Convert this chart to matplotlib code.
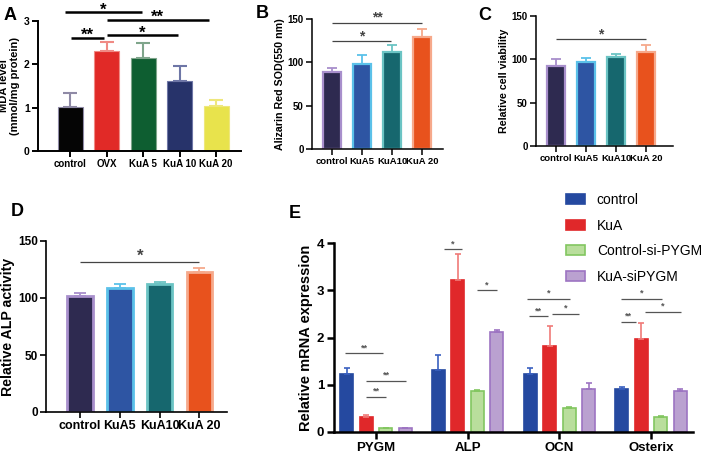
import numpy as np
import matplotlib
matplotlib.use("Agg")
import matplotlib.pyplot as plt
from matplotlib.patches import Patch

plt.rcParams['font.family'] = ['Liberation Sans', 'DejaVu Sans']
plt.rcParams['font.weight'] = 'bold'

# ---------------- data ----------------
a_cats = ["control", "OVX", "KuA 5", "KuA 10", "KuA 20"]
a_vals = [1.02, 2.30, 2.15, 1.62, 1.03]
a_errs = [0.33, 0.22, 0.35, 0.34, 0.15]

b_cats = ["control", "KuA5", "KuA10", "KuA 20"]
b_vals = [89, 98, 112, 129]
b_errs = [5, 10, 8, 9]

c_cats = ["control", "KuA5", "KuA10", "KuA 20"]
c_vals = [92, 97, 103, 109]
c_errs = [8, 5, 3, 7]

d_cats = ["control", "KuA5", "KuA10", "KuA 20"]
d_vals = [102, 109, 112, 123]
d_errs = [2, 3, 2, 3]

e_genes = ["PYGM", "ALP", "OCN", "Osterix"]
e_series = ["control", "KuA", "Control-si-PYGM", "KuA-siPYGM"]
e_control = [1.22, 1.31, 1.23, 0.92]
e_kua = [0.31, 3.22, 1.82, 1.97]
e_ctrl_si = [0.08, 0.86, 0.51, 0.32]
e_kua_si = [0.08, 2.11, 0.92, 0.86]
e_control_err = [0.13, 0.33, 0.12, 0.04]
e_kua_err = [0.05, 0.55, 0.42, 0.34]
e_ctrl_si_err = [0.01, 0.02, 0.02, 0.02]
e_kua_si_err = [0.01, 0.05, 0.12, 0.05]

# ---------------- figure ----------------
W, H = 708, 457
fig = plt.figure(figsize=(W / 100, H / 100), dpi=100)
PT = 0.72  # points per pixel at 100 dpi


def rect(l, r, t, b):
    return [l / W, 1 - b / H, (r - l) / W, (b - t) / H]


def style_axes(ax, lw, xfs, yfs, ticklen=4):
    for s in ("top", "right"):
        ax.spines[s].set_visible(False)
    for s in ("left", "bottom"):
        ax.spines[s].set_linewidth(lw)
    ax.tick_params(axis="both", direction="out", width=lw, length=ticklen, pad=2)
    ax.tick_params(axis="x", labelsize=xfs)
    ax.tick_params(axis="y", labelsize=yfs)
    for lab in ax.get_xticklabels() + ax.get_yticklabels():
        lab.set_fontweight("bold")


def bracket(ax, x1, x2, y, text, lw, color, fs, base_px):
    """base_px: baseline of the star text, pixels above the line."""
    ax.plot([x1, x2], [y, y], color=color, lw=lw, clip_on=False,
            solid_capstyle="butt")
    ax.annotate(text, xy=((x1 + x2) / 2, y), xytext=(0, base_px * PT),
                textcoords="offset points", ha="center", va="baseline",
                fontsize=fs, color=color, annotation_clip=False)


# ---------------- Panel A ----------------
axA = fig.add_axes(rect(38, 241, 21, 151))
a_face = ["#050505", "#e12a27", "#0e5e31", "#27336a", "#e8e34c"]
a_errc = ["#8f8aa6", "#f08a84", "#7fa58b", "#6e76a6", "#eee77c"]
xa = np.arange(len(a_cats))
axA.bar(xa, a_vals, width=0.68, color=a_face, edgecolor=a_errc, linewidth=0.8)
for i in range(len(xa)):
    axA.errorbar(xa[i], a_vals[i], yerr=[[0], [a_errs[i]]], fmt="none",
                 ecolor=a_errc[i], elinewidth=1.5, capsize=5, capthick=1.5)
axA.set_xlim(-0.88, 4.68)
axA.set_ylim(0, 3)
axA.set_yticks([0, 1, 2, 3])
axA.set_xticks(xa)
axA.set_xticklabels(a_cats)
axA.set_ylabel("MDA level\n(mmol/mg protein)", fontsize=8, fontweight="bold",
               labelpad=3, linespacing=1.1)
style_axes(axA, 1.4, 7, 7.5)
bracket(axA, -0.14, 1.97, 3.20, "*", 1.8, "black", 12, -2.5)
bracket(axA, 1.0, 3.8, 3.02, "**", 1.8, "black", 12, -2.0)
bracket(axA, 0.03, 0.93, 2.61, "**", 1.8, "black", 12, -2.0)
bracket(axA, 1.0, 2.95, 2.68, "*", 1.8, "black", 12, -2.5)
fig.text(10 / W, 1 - 15 / H, "A", fontsize=13, fontweight="bold",
         ha="center", va="center")

# ---------------- shared palette for B, C, D ----------------
bcd_face = ["#2e2a50", "#2e55a3", "#16676e", "#e8521d"]
bcd_edge = ["#a88fcc", "#5bc1e9", "#6bc4c4", "#f6a98b"]


def bcd_panel(ax, cats, vals, errs, width, lw_edge, capsize):
    x = np.arange(len(cats))
    ax.bar(x, vals, width=width, color=bcd_face, edgecolor=bcd_edge,
           linewidth=lw_edge)
    for i in range(len(x)):
        ax.errorbar(x[i], vals[i], yerr=[[0], [errs[i]]], fmt="none",
                    ecolor=bcd_edge[i], elinewidth=1.3, capsize=capsize,
                    capthick=1.3)
    ax.set_xticks(x)
    ax.set_xticklabels(cats)
    ax.set_ylim(0, 150)
    ax.set_yticks([0, 50, 100, 150])
    return x


# ---------------- Panel B ----------------
axB = fig.add_axes(rect(312, 443, 19, 149))
bcd_panel(axB, b_cats, b_vals, b_errs, 0.62, 1.6, 3.5)
axB.set_xlim(-0.67, 3.7)
axB.set_ylabel("Alizarin Red SOD(550 nm)", fontsize=7.7, fontweight="bold",
               labelpad=2)
style_axes(axB, 1.1, 6.8, 7)
bracket(axB, 0, 1.97, 124.5, "*", 0.9, "#444444", 10, 1)
bracket(axB, 0, 3.0, 145, "**", 0.9, "#444444", 10, 1.5)
fig.text(262 / W, 1 - 14 / H, "B", fontsize=13, fontweight="bold",
         ha="center", va="center")

# ---------------- Panel C ----------------
axC = fig.add_axes(rect(536, 673, 16, 146))
bcd_panel(axC, c_cats, c_vals, c_errs, 0.62, 1.6, 3.5)
axC.set_xlim(-0.67, 3.9)
axC.set_ylabel("Relative cell viability", fontsize=7.7, fontweight="bold",
               labelpad=2)
style_axes(axC, 1.1, 6.8, 7)
bracket(axC, 0, 3.0, 123.5, "*", 0.9, "#444444", 10, 0.5)
fig.text(485 / W, 1 - 15 / H, "C", fontsize=13, fontweight="bold",
         ha="center", va="center")

# ---------------- Panel D ----------------
axD = fig.add_axes(rect(46, 227, 241, 412))
bcd_panel(axD, d_cats, d_vals, d_errs, 0.64, 2.0, 4)
axD.set_xlim(-0.86, 3.7)
axD.set_ylabel("Relative ALP activity", fontsize=10.2, fontweight="bold",
               labelpad=2)
style_axes(axD, 1.2, 9, 8.5)
bracket(axD, 0, 3.0, 131.5, "*", 0.9, "#444444", 12, 1.5)
fig.text(17 / W, 1 - 211 / H, "D", fontsize=13, fontweight="bold",
         ha="center", va="center")

# ---------------- Panel E ----------------
axE = fig.add_axes(rect(334, 693, 243, 432))
e_vals = [e_control, e_kua, e_ctrl_si, e_kua_si]
e_errs = [e_control_err, e_kua_err, e_ctrl_si_err, e_kua_si_err]
e_face = ["#2549a0", "#e0282a", "#b9de9c", "#baa1d0"]
e_edge = ["#2549a0", "#e0282a", "#82c660", "#9d74c2"]
e_errc = ["#3a60c0", "#f07a78", "#82c660", "#9d74c2"]
step = 0.213
xg = np.arange(len(e_genes))
for k in range(4):
    xs = xg + (k - 1.5) * step
    axE.bar(xs, e_vals[k], width=0.142, color=e_face[k], edgecolor=e_edge[k],
            linewidth=1.2, label=e_series[k])
    axE.errorbar(xs, e_vals[k], yerr=[np.zeros(4), e_errs[k]], fmt="none",
                 ecolor=e_errc[k], elinewidth=1.2, capsize=2.5, capthick=1.2)
axE.set_xlim(-0.46, 3.46)
axE.set_ylim(0, 4)
axE.set_yticks([0, 1, 2, 3, 4])
axE.set_xticks(xg)
axE.set_xticklabels(e_genes)
axE.set_ylabel("Relative mRNA expression", fontsize=10.5, fontweight="bold",
               labelpad=3)
style_axes(axE, 1.8, 9.5, 9.5, ticklen=5)


def ebr(g, i1, i2, y, text):
    x1 = g + (i1 - 1.5) * step
    x2 = g + (i2 - 1.5) * step
    bracket(axE, x1, x2, y, text, 0.9, "#555555", 6.5, 3)


ebr(0, -0.09, 1.86, 1.67, "**")
ebr(0, 0.99, 3.04, 1.08, "**")
ebr(0, 0.99, 2.01, 0.74, "**")
ebr(1, 0.27, 1.19, 3.87, "*")
ebr(1, 1.96, 2.99, 3.00, "*")
ebr(2, -0.14, 2.06, 2.82, "*")
ebr(2, -0.04, 0.94, 2.45, "**")
ebr(2, 1.14, 2.53, 2.50, "*")
ebr(3, -0.04, 2.06, 2.82, "*")
ebr(3, -0.04, 0.73, 2.33, "**")
ebr(3, 1.19, 3.04, 2.54, "*")

handles = [Patch(facecolor=e_face[k], edgecolor=e_edge[k], linewidth=1.2)
           for k in range(4)]
leg = fig.legend(handles, e_series, loc="upper left",
                 bbox_to_anchor=(566 / W, 1 - 193 / H), frameon=False,
                 borderpad=0, borderaxespad=0, handlelength=1.37,
                 handleheight=0.7, handletextpad=0.85, labelspacing=0.83,
                 prop={"family": "Liberation Sans", "weight": "normal",
                       "size": 10})
fig.text(295 / W, 1 - 213 / H, "E", fontsize=13, fontweight="bold",
         ha="center", va="center")

fig.savefig("out.png", dpi=100)
